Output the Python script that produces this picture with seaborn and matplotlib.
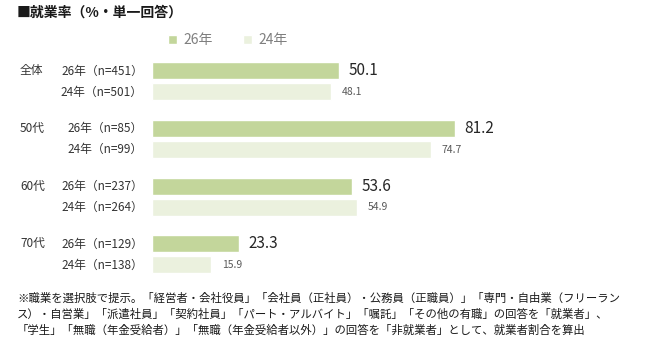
import warnings

import pandas as pd
import seaborn as sns
from matplotlib import pyplot as plt

warnings.filterwarnings('ignore')

groups = ["全体", "50代", "60代", "70代"]
years = ["26年", "24年"]
rate26 = [50.1, 81.2, 53.6, 23.3]
rate24 = [48.1, 74.7, 54.9, 15.9]
n26 = [451, 85, 237, 129]
n24 = [501, 99, 264, 138]

colors = {"26年": "#c3d69b", "24年": "#ebf1de"}

df = pd.DataFrame({
    "group": groups * 2,
    "year": ["26年"] * 4 + ["24年"] * 4,
    "rate": rate26 + rate24,
    "n": n26 + n24,
})

sns.set_theme(style="white")
plt.rcParams['font.family'] = ['Noto Sans CJK JP', 'DejaVu Sans']

fig = plt.figure(figsize=(6.5, 3.51), dpi=100)
ax = fig.add_axes([0.2338, 0.193, 0.5738, 0.657])

sns.barplot(data=df, x="rate", y="group", hue="year",
            order=groups, hue_order=years, palette=colors,
            orient="h", width=0.728, gap=0.19, saturation=1,
            errorbar=None, ax=ax)

ax.set_xlim(0, 100)
ax.set_ylim(3.5, -0.5)
ax.set_xlabel("")
ax.set_ylabel("")
ax.set_xticks([])
ax.set_yticks([])
sns.despine(ax=ax, left=True, bottom=True)

# bar labels, row labels and group labels
bars = [p for p in ax.patches if p.get_height() > 0]
for i, (yr, rates, ns) in enumerate([("26年", rate26, n26), ("24年", rate24, n24)]):
    for j in range(len(groups)):
        p = bars[i * len(groups) + j]
        yc = p.get_y() + p.get_height() / 2
        w = p.get_width()
        if yr == "26年":
            ax.text(w + 2.6, yc, f"{rates[j]:.1f}", va="center", ha="left",
                    fontsize=11, color="#262626")
            ax.annotate(groups[j], xy=(0, yc), xytext=(-95, 0),
                        textcoords="offset points", va="center", ha="left",
                        fontsize=8.5, color="#333333",
                        xycoords=ax.get_yaxis_transform())
        else:
            ax.text(w + 2.9, yc, f"{rates[j]:.1f}", va="center", ha="left",
                    fontsize=7.5, color="#595959")
        ax.annotate(f"{yr}（n={ns[j]}）", xy=(0, yc), xytext=(-6.5, 0),
                    textcoords="offset points", va="center", ha="right",
                    fontsize=8.5, color="#333333",
                    xycoords=ax.get_yaxis_transform())

sns.move_legend(ax, "center", bbox_to_anchor=(0.351, 0.886),
                bbox_transform=fig.transFigure, ncol=2, frameon=False,
                title=None, handlelength=0.6, handleheight=0.6,
                columnspacing=2.2, handletextpad=0.5,
                labelcolor="#7f7f7f", fontsize=10)

fig.text(0.026, 0.963, "■就業率（%・単一回答）", fontsize=10,
         fontweight="bold", color="#1a1a1a", va="center", ha="left")

note = ("※職業を選択肢で提示。「経営者・会社役員」「会社員（正社員）・公務員（正職員）」「専門・自由業（フリーラン\n"
        "ス）・自営業」「派遣社員」「契約社員」「パート・アルバイト」「嘱託」「その他の有職」の回答を「就業者」、\n"
        "「学生」「無職（年金受給者）」「無職（年金受給者以外）」の回答を「非就業者」として、就業者割合を算出")
fig.text(0.026, 0.167, note, fontsize=8.2, color="#1a1a1a",
         va="top", ha="left", linespacing=1.55)

fig.savefig("out.png", dpi=100, facecolor="white")
